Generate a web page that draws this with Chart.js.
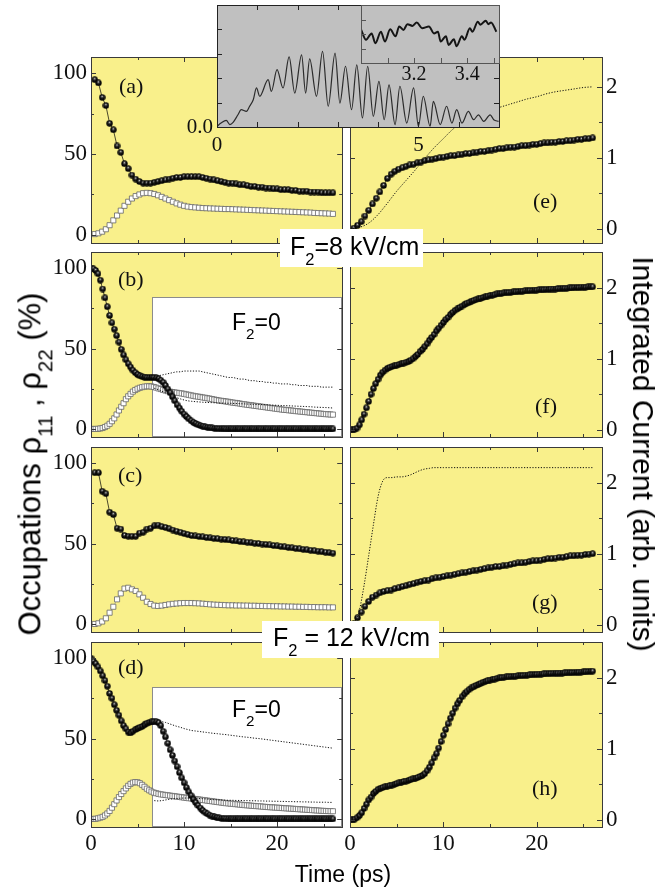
<!DOCTYPE html>
<html>
<head>
<meta charset="utf-8">
<title>Occupations and integrated current</title>
<script src="https://cdn.jsdelivr.net/npm/chart.js@4.4.1/dist/chart.umd.min.js"></script>
<style>
  body { margin: 0; background: #fff; }
  #fig { position: relative; width: 672px; height: 890px; overflow: hidden; background: #fff;
         font-family: "Liberation Sans", Arial, sans-serif; color: #000; }
  #plots canvas { position: absolute; }
  .tag { position: absolute; font-family: "Liberation Serif", "Times New Roman", serif; font-size: 22px; line-height: 1; color: #111; }
  .box { position: absolute; background: #fff; font-size: 25px; line-height: 1; white-space: nowrap; box-sizing: border-box; }
  .f0 { position: absolute; font-size: 23px; line-height: 1; white-space: nowrap; }
  .ttl { position: absolute; white-space: nowrap; line-height: 1; }
  sub { font-size: 0.66em; vertical-align: -0.6em; line-height: 0; }
</style>
</head>
<body>
<div id="fig">
  <div id="plots"></div>
  <div class="tag" style="left:119px;top:75px">(a)</div>
  <div class="tag" style="left:118px;top:268px">(b)</div>
  <div class="tag" style="left:118px;top:464px">(c)</div>
  <div class="tag" style="left:118px;top:656px">(d)</div>
  <div class="tag" style="left:533px;top:190px">(e)</div>
  <div class="tag" style="left:535px;top:395px">(f)</div>
  <div class="tag" style="left:532px;top:591px">(g)</div>
  <div class="tag" style="left:532px;top:777px">(h)</div>
  <div class="f0" style="left:232px;top:311px">F<sub>2</sub>=0</div>
  <div class="f0" style="left:232px;top:698px">F<sub>2</sub>=0</div>
  <div class="box" style="left:280px;top:229px;width:143px;height:38px;padding:5px 0 0 10px">F<sub>2</sub>=8 kV/cm</div>
  <div class="box" style="left:262px;top:621px;width:177px;height:37px;padding:4px 0 0 11px">F<sub>2</sub> = 12 kV/cm</div>
  <div class="ttl" style="left:30px;top:464px;font-size:31px;transform:translate(-50%,-50%) rotate(-90deg)">Occupations &#961;<sub>11</sub> , &#961;<sub>22</sub> (%)</div>
  <div class="ttl" style="left:643px;top:454px;font-size:30px;transform:translate(-50%,-50%) rotate(90deg)">Integrated Current (arb. units)</div>
  <div class="ttl" style="left:343px;top:863px;font-size:23px;transform:translateX(-50%)">Time (ps)</div>
</div>
<script>
// sampling grids (ps): sparse markers every 0.4 ps, dense markers every 0.25 ps
const tSparse = [];
for (let k = 1; k <= 65; k++) tSparse.push(+(0.4 * k).toFixed(1));
const tDense = [];
for (let k = 0; k <= 104; k++) tDense.push(k * 0.25);

// (a) F2 = 8 kV/cm, occupations (%)
const a11 = [96, 94, 85, 80, 69, 65, 55, 51, 44, 41,
  37, 34.5, 33, 32, 32, 32, 32.5, 33, 33.5, 34,
  34.5, 35, 35.5, 35.5, 36, 36, 36, 36, 36, 35.5,
  35, 34.5, 34, 33.5, 33, 32.5, 32, 32, 31.5, 31,
  31, 30.5, 30, 30, 29.5, 29.5, 29, 29, 28.5, 28.5,
  28, 28, 28, 27.5, 27.5, 27, 27, 27, 26.5, 26.5,
  26.5, 26, 26, 26, 26];
const a22 = [0.5, 1, 2, 3.5, 6, 9, 12, 15, 18, 20.5,
  22.5, 24, 25, 25.8, 26, 25.8, 25.3, 24.5, 23.5, 22.5,
  21.5, 20.5, 19.5, 18.7, 18, 17.5, 17.2, 17, 16.8, 16.6,
  16.5, 16.4, 16.3, 16.2, 16.1, 16, 16, 15.9, 15.8, 15.7,
  15.6, 15.5, 15.4, 15.3, 15.2, 15.1, 15, 14.9, 14.8, 14.7,
  14.6, 14.5, 14.4, 14.3, 14.2, 14.1, 14, 13.9, 13.8, 13.6,
  13.5, 13.4, 13.3, 13.2, 13];

// (b) F2 switched off
const b11 = [100, 99.5, 98.5, 96.5, 92.5, 87, 81.5, 76,
  70.5, 66, 62, 58, 54, 49.5, 46, 43,
  40.5, 38.5, 36.5, 35, 33.8, 33, 32.5, 32.2,
  32, 32, 32, 32, 31.8, 31.2, 30.3, 29,
  27, 24.8, 22.5, 20, 17.5, 15, 13, 11,
  9.2, 7.7, 6.3, 5.1, 4.1, 3.3, 2.6, 2.1,
  1.7, 1.3, 1.0, 0.8, 0.6, 0.4, 0.3, 0.2,
  0.1, 0.1, 0, 0, 0, 0, 0, 0,
  0, 0, 0, 0, 0, 0, 0, 0,
  0, 0, 0, 0, 0, 0, 0, 0,
  0, 0, 0, 0, 0, 0, 0, 0,
  0, 0, 0, 0, 0, 0, 0, 0,
  0, 0, 0, 0, 0, 0, 0, 0,
  0];
const b22 = [0, 0, 0, 0.1, 0.3, 0.6, 1.2, 2.0,
  3.2, 4.8, 6.6, 9, 11.5, 13.8, 16, 18.5,
  20.3, 21.8, 23.2, 24.2, 25, 25.6, 26, 26.3,
  26.5, 26.5, 26.4, 26.1, 25.7, 25.2, 24.8, 24.3,
  23.9, 23.5, 23.2, 22.9, 22.7, 22.5, 22.3, 22.1,
  21.8, 21.5, 21.2, 20.9, 20.6, 20.3, 20.1, 19.9,
  19.6, 19.4, 19.1, 18.9, 18.6, 18.3, 18, 17.7,
  17.5, 17.3, 17.1, 16.9, 16.6, 16.4, 16.2, 16,
  15.8, 15.5, 15.3, 15.1, 14.9, 14.7, 14.5, 14.3,
  14.1, 13.9, 13.7, 13.5, 13.3, 13.1, 12.9, 12.7,
  12.5, 12.3, 12.1, 11.9, 11.8, 11.6, 11.5, 11.3,
  11.1, 11, 10.8, 10.7, 10.5, 10.4, 10.2, 10.1,
  9.9, 9.8, 9.6, 9.5, 9.3, 9.2, 9.1, 9.0,
  8.9];

// (c) F2 = 12 kV/cm
const c11 = [94, 94, 82.5, 81, 69.5, 68, 59.5, 59, 55, 54.5,
  54.5, 54.5, 56.5, 57, 59, 59.5, 61, 61.5, 60.5, 60,
  59.2, 58.4, 57.6, 57, 56.2, 55.6, 55, 54.7, 54.4, 54.1,
  53.8, 53.5, 53.2, 53, 52.7, 52.5, 52.2, 51.9, 51.6, 51.3,
  51, 50.8, 50.5, 50.2, 50, 49.7, 49.4, 49.1, 48.8, 48.5,
  48.2, 47.9, 47.6, 47.3, 47, 46.7, 46.4, 46.1, 45.8, 45.5,
  45.2, 44.9, 44.6, 44.3, 44];
const c22 = [0, 0.4, 1.5, 3.5, 7, 10.7, 15.3, 19, 22, 22.5,
  21.5, 20.5, 18.4, 16.3, 13.8, 12.4, 11.4, 11.2, 11.4, 11.8,
  12.2, 12.5, 12.7, 12.9, 13, 13, 13, 12.9, 12.8, 12.6,
  12.4, 12.2, 12, 11.9, 11.8, 11.7, 11.6, 11.6, 11.5, 11.5,
  11.4, 11.4, 11.3, 11.3, 11.2, 11.2, 11.1, 11.1, 11.0, 11.0,
  10.9, 10.9, 10.8, 10.8, 10.7, 10.7, 10.6, 10.6, 10.5, 10.5,
  10.4, 10.4, 10.4, 10.3, 10.3];

// (d) F2 switched off
const d11 = [100, 98, 96.5, 94.5, 92, 89, 86, 82.5,
  78, 75, 71, 67.5, 64.5, 61, 58, 56,
  54, 53.5, 54.5, 55.5, 56.3, 57, 57.5, 58.5,
  59.5, 60, 60.3, 60.5, 60.5, 59.8, 58, 54.5,
  51, 47, 43, 39.5, 36, 32.5, 28.8, 25.5,
  22.5, 19.5, 16.8, 14.5, 12.2, 10.2, 8.4, 6.8,
  5.3, 4.2, 3.2, 2.4, 1.8, 1.3, 0.9, 0.6,
  0.4, 0.3, 0.2, 0.1, 0, 0, 0, 0,
  0, 0, 0, 0, 0, 0, 0, 0,
  0, 0, 0, 0, 0, 0, 0, 0,
  0, 0, 0, 0, 0, 0, 0, 0,
  0, 0, 0, 0, 0, 0, 0, 0,
  0, 0, 0, 0, 0, 0, 0, 0,
  0];
const d22 = [0, 0, 0.1, 0.4, 0.8, 1.3, 2.2, 3.4,
  5, 7, 9.2, 11.5, 13.6, 15.5, 17.3, 19,
  20.6, 21.8, 22.6, 22.9, 22.8, 22.2, 21.2, 20,
  18.8, 17.8, 17, 16.4, 16, 15.6, 15.3, 15.1,
  14.9, 14.7, 14.5, 14.3, 14.1, 13.9, 13.7, 13.5,
  13.3, 13.1, 12.9, 12.8, 12.6, 12.4, 12.2, 12,
  11.8, 11.6, 11.4, 11.2, 11, 10.8, 10.6, 10.4,
  10.2, 10, 9.8, 9.7, 9.5, 9.4, 9.2, 9.1,
  8.9, 8.8, 8.6, 8.5, 8.4, 8.2, 8.1, 8.0,
  7.9, 7.8, 7.6, 7.5, 7.4, 7.3, 7.2, 7.1,
  7.0, 6.9, 6.8, 6.7, 6.6, 6.5, 6.4, 6.3,
  6.2, 6.1, 6.0, 5.9, 5.8, 5.7, 5.6, 5.5,
  5.4, 5.3, 5.2, 5.1, 5.0, 4.95, 4.9, 4.85,
  4.8];

// integrated current (arb. units)
const eCur = [0.01, 0.05, 0.1, 0.18, 0.26, 0.35, 0.43, 0.52, 0.61, 0.71,
  0.77, 0.81, 0.84, 0.86, 0.88, 0.9, 0.91, 0.93, 0.94, 0.96,
  0.97, 0.98, 0.99, 1.00, 1.01, 1.02, 1.03, 1.03, 1.04, 1.05,
  1.06, 1.06, 1.07, 1.08, 1.09, 1.09, 1.10, 1.11, 1.12, 1.13,
  1.13, 1.14, 1.15, 1.15, 1.16, 1.17, 1.17, 1.18, 1.19, 1.19,
  1.20, 1.21, 1.21, 1.22, 1.22, 1.23, 1.23, 1.24, 1.24, 1.25,
  1.26, 1.26, 1.27, 1.27, 1.28];
const eDotT = [0, 1, 2, 3, 4, 5, 6, 7, 8, 9, 10, 11, 12, 13, 14, 15, 16, 17, 18, 19, 20, 21, 22, 23, 24, 25, 26];
const eDot = [0, 0.02, 0.08, 0.2, 0.36, 0.53, 0.68, 0.83, 0.99, 1.14, 1.27, 1.4, 1.49, 1.57, 1.63,
  1.67, 1.71, 1.75, 1.79, 1.83, 1.86, 1.9, 1.93, 1.95, 1.97, 1.99, 2.0];
const fCur = [0, 0, 0.01, 0.025, 0.07, 0.14, 0.22, 0.31,
  0.40, 0.50, 0.58, 0.65, 0.71, 0.77, 0.81, 0.84,
  0.865, 0.88, 0.89, 0.90, 0.91, 0.92, 0.93, 0.94,
  0.95, 0.96, 0.98, 1.00, 1.03, 1.06, 1.10, 1.13,
  1.17, 1.21, 1.26, 1.30, 1.34, 1.39, 1.43, 1.47,
  1.51, 1.55, 1.58, 1.62, 1.65, 1.68, 1.70, 1.72,
  1.74, 1.76, 1.78, 1.79, 1.81, 1.82, 1.83, 1.84,
  1.85, 1.86, 1.87, 1.88, 1.89, 1.895, 1.90, 1.91,
  1.915, 1.92, 1.925, 1.93, 1.93, 1.935, 1.94, 1.94,
  1.945, 1.95, 1.95, 1.955, 1.955, 1.96, 1.96, 1.965,
  1.965, 1.97, 1.97, 1.97, 1.975, 1.975, 1.98, 1.98,
  1.98, 1.985, 1.985, 1.99, 1.99, 1.99, 1.995, 1.995,
  2.00, 2.00, 2.00, 2.005, 2.005, 2.005, 2.01, 2.01,
  2.01];
const gCur = [0.02, 0.1, 0.18, 0.26, 0.33, 0.39, 0.42, 0.45, 0.47, 0.48,
  0.49, 0.51, 0.52, 0.54, 0.55, 0.57, 0.58, 0.6, 0.61, 0.62,
  0.63, 0.65, 0.66, 0.67, 0.68, 0.69, 0.7, 0.71, 0.72, 0.73,
  0.74, 0.75, 0.76, 0.77, 0.78, 0.79, 0.8, 0.81, 0.82, 0.82,
  0.83, 0.84, 0.85, 0.86, 0.87, 0.87, 0.88, 0.89, 0.9, 0.9,
  0.91, 0.92, 0.93, 0.93, 0.94, 0.95, 0.95, 0.96, 0.97, 0.97,
  0.98, 0.98, 0.99, 0.995, 1.0];
const gDotT = [0.5, 1, 1.5, 2, 2.5, 3, 3.5, 4, 4.5, 5, 5.5, 6, 6.5, 7, 7.5, 8, 8.5, 9, 10, 12, 14, 16, 18, 20, 22, 24, 26];
const gDot = [0, 0.2, 0.55, 0.97, 1.4, 1.8, 2.02, 2.07, 2.07, 2.08, 2.08, 2.09, 2.11, 2.14, 2.17, 2.19, 2.2,
  2.21, 2.21, 2.21, 2.21, 2.21, 2.21, 2.21, 2.21, 2.21, 2.21];
const hCur = [0, 0, 0.01, 0.03, 0.06, 0.10, 0.16, 0.22,
  0.28, 0.32, 0.37, 0.40, 0.43, 0.445, 0.455, 0.465,
  0.475, 0.48, 0.49, 0.50, 0.51, 0.52, 0.53, 0.54,
  0.545, 0.555, 0.565, 0.575, 0.585, 0.595, 0.61, 0.625,
  0.65, 0.69, 0.74, 0.80, 0.87, 0.93, 1.01, 1.10,
  1.19, 1.27, 1.35, 1.43, 1.50, 1.57, 1.63, 1.68,
  1.73, 1.77, 1.80, 1.83, 1.855, 1.87, 1.89, 1.905,
  1.92, 1.935, 1.945, 1.955, 1.965, 1.975, 1.98, 1.99,
  1.995, 2.0, 2.005, 2.01, 2.012, 2.015, 2.018, 2.02,
  2.025, 2.028, 2.03, 2.033, 2.035, 2.038, 2.04, 2.043,
  2.045, 2.048, 2.05, 2.052, 2.054, 2.056, 2.058, 2.06,
  2.061, 2.062, 2.063, 2.064, 2.066, 2.068, 2.069, 2.07,
  2.072, 2.074, 2.076, 2.078, 2.08, 2.082, 2.085, 2.088,
  2.09];

// gray inset: current trace, and its zoom
const insetT = [0, 0.1, 0.23, 0.32, 0.4, 0.52, 0.6, 0.73, 0.81, 0.9, 0.98, 1.06, 1.27, 1.35, 1.49,
  1.64, 1.79, 1.93, 2.1, 2.2, 2.3, 2.47, 2.62, 2.76, 2.93, 3.05, 3.19, 3.34, 3.47, 3.61,
  3.74, 3.88, 4.02, 4.15, 4.27, 4.42, 4.54, 4.71, 4.88, 5.0, 5.12, 5.29, 5.37, 5.54, 5.7,
  5.83, 5.95, 6.08, 6.24, 6.37, 6.49, 6.62, 6.78, 6.87, 6.99];
const insetV = [0.03, 0.16, 0.27, 0.1, 0.19, 0.5, 0.71, 0.64, 0.85, 1.12, 1.6, 1.26, 1.94, 1.46, 2.35,
  1.6, 2.87, 1.39, 2.96, 1.39, 2.79, 1.26, 3.1, 0.85, 3.03, 0.98, 2.49, 0.71, 2.55, 0.37,
  2.49, 0.44, 1.87, 0.3, 1.73, 0.1, 1.67, 0.16, 1.6, 0.03, 1.26, 0.03, 1.05, 0.1, 0.85,
  0.16, 0.71, 0.16, 0.64, 0.3, 0.5, 0.23, 0.5, 0.3, 0.23];
const subT = [3.0, 3.019, 3.04, 3.054, 3.075, 3.09, 3.11, 3.13, 3.144, 3.16, 3.175, 3.194, 3.21, 3.23,
  3.256, 3.275, 3.29, 3.30, 3.32, 3.33, 3.35, 3.36, 3.38, 3.39, 3.41, 3.42, 3.44, 3.45, 3.47, 3.48, 3.49, 3.51];
const subV = [0.58, 0.4, 0.51, 0.34, 0.54, 0.37, 0.58, 0.46, 0.63, 0.57, 0.67, 0.64, 0.7, 0.6,
  0.63, 0.51, 0.54, 0.37, 0.46, 0.31, 0.41, 0.29, 0.46, 0.4, 0.6, 0.54, 0.71, 0.66, 0.73, 0.67, 0.7, 0.54];

// tick values
const xMajor = [0, 10, 20], xMinor = [5, 15, 25];
const occMajor = [0, 50, 100], occMinor = [25, 75];
const curMajor = [0, 1, 2], curMinor = [0.5, 1.5];
const insetXTicks = [0, 1, 2, 3, 4, 5, 6, 7], insetXLabels = [0, 5];
const insetYTicks = [0, 1, 2, 3, 4, 5], insetYLabels = [0];
const subXTicks = [3.1, 3.2, 3.3, 3.4, 3.5], subXLabels = [3.2, 3.4];
const subYTicks = [0.25, 0.5, 0.75];

const YELLOW = '#f9f08b';
const GRAY = '#c0c0c0';
const serif = size => ({ family: '"Liberation Serif", "Times New Roman", serif', size: size, weight: 'normal' });

Chart.register({
  id: 'bg',
  beforeDraw(chart, args, o) {
    if (!o.color) return;
    const a = chart.chartArea, ctx = chart.ctx;
    ctx.save();
    ctx.fillStyle = o.color;
    ctx.fillRect(a.left, a.top, a.right - a.left, a.bottom - a.top);
    ctx.restore();
  }
}, {
  id: 'whiteBox',
  beforeDatasetsDraw(chart, args, o) {
    if (o.x0 === undefined) return;
    const { ctx, scales: { x, y } } = chart;
    const l = Math.round(x.getPixelForValue(o.x0)) + 0.5, r = Math.round(x.getPixelForValue(o.x1)) + 0.5;
    const t = Math.round(y.getPixelForValue(o.y1)) + 0.5, b = Math.round(y.getPixelForValue(o.y0)) + 0.5;
    ctx.save();
    ctx.fillStyle = '#fff';
    ctx.fillRect(l, t, r - l, b - t);
    ctx.strokeStyle = '#8c8c8c';
    ctx.lineWidth = 1;
    ctx.strokeRect(l, t, r - l, b - t);
    ctx.restore();
  }
}, {
  // frame with inward ticks on all sides
  id: 'frame',
  afterDatasetsDraw(chart, args, o) {
    if (!o.xMaj) return;
    const { ctx, chartArea: a, scales: { x, y } } = chart;
    const sides = o.sides || 'tblr';
    ctx.save();
    ctx.strokeStyle = o.color || '#3a3a3a';
    ctx.lineWidth = 1;
    ctx.beginPath();
    const xs = o.xMaj.map(v => [v, 5]).concat((o.xMin || []).map(v => [v, 3]));
    const ys = o.yMaj.map(v => [v, 5]).concat((o.yMin || []).map(v => [v, 3]));
    xs.forEach(([v, len]) => {
      const p = Math.round(x.getPixelForValue(v)) + 0.5;
      if (sides.includes('b')) { ctx.moveTo(p, a.bottom); ctx.lineTo(p, a.bottom - len); }
      if (sides.includes('t')) { ctx.moveTo(p, a.top); ctx.lineTo(p, a.top + len); }
    });
    ys.forEach(([v, len]) => {
      const p = Math.round(y.getPixelForValue(v)) + 0.5;
      if (sides.includes('l')) { ctx.moveTo(a.left, p); ctx.lineTo(a.left + len, p); }
      if (sides.includes('r')) { ctx.moveTo(a.right, p); ctx.lineTo(a.right - len, p); }
    });
    ctx.stroke();
    ctx.strokeRect(Math.round(a.left) + 0.5, Math.round(a.top) + 0.5,
      Math.round(a.right - a.left), Math.round(a.bottom - a.top));
    ctx.restore();
  }
});

// shaded ball marker
const ball = (() => {
  const c = document.createElement('canvas');
  c.width = c.height = 7;
  const g = c.getContext('2d');
  const gr = g.createRadialGradient(3.3, 2.2, 0.1, 3.5, 3.5, 3.4);
  gr.addColorStop(0, '#f0f0f0');
  gr.addColorStop(0.22, '#5a5a5a');
  gr.addColorStop(0.55, '#0d0d0d');
  gr.addColorStop(1, '#000');
  g.fillStyle = gr;
  g.beginPath();
  g.arc(3.5, 3.5, 3.2, 0, Math.PI * 2);
  g.fill();
  return c;
})();

const pts = (ts, vs) => vs.map((v, i) => ({ x: ts[i], y: v }));
const after = (ts, vs, t0) => pts(ts, vs).filter(p => p.x >= t0);

function spheres(ts, vs) {
  return { data: pts(ts, vs), showLine: true, borderColor: '#000', borderWidth: 0.7,
    pointStyle: ball, pointRadius: 3, pointHoverRadius: 3 };
}
function squares(ts, vs) {
  return { data: pts(ts, vs), showLine: true, borderColor: '#9a9a9a', borderWidth: 0.6,
    pointStyle: 'rect', pointRadius: 3.6, pointBackgroundColor: '#fff',
    pointBorderColor: '#666', pointBorderWidth: 0.8 };
}
function dotted(data) {
  return { data: data, showLine: true, borderColor: '#111', borderWidth: 1,
    borderDash: [1.2, 1.6], pointRadius: 0, cubicInterpolationMode: 'monotone' };
}

const plots = document.getElementById('plots');
function addCanvas(x, y, w, h) {
  const c = document.createElement('canvas');
  c.width = w; c.height = h;
  c.style.left = x + 'px'; c.style.top = y + 'px';
  c.style.width = w + 'px'; c.style.height = h + 'px';
  plots.appendChild(c);
  return c;
}

const ROWS = [[57, 243], [252, 437], [447, 632], [642, 827]];
const BOX = { x0: 6.55, x1: 26.85, y0: -4.2, y1: 82 };

function makePanel(p) {
  const left = p.side === 'L';
  const [top, bottom] = ROWS[p.row];
  const last = p.row === 3;
  const area = left ? { l: 91, r: 343 } : { l: 350, r: 602 };
  const bx = left ? 0 : 322, bw = left ? 347 : 350;
  const by = top - 24, bh = (bottom - top) + 24 + (last ? 50 : 24);
  const yMaj = left ? occMajor : curMajor, yMin = left ? occMinor : curMinor;
  new Chart(addCanvas(bx, by, bw, bh), {
    type: 'scatter',
    data: { datasets: p.ds },
    options: {
      responsive: false, animation: false, devicePixelRatio: 1, events: [],
      layout: { padding: { top: top - by, bottom: 0, left: left ? 0 : area.l - bx, right: left ? bx + bw - area.r : 0 } },
      plugins: {
        legend: { display: false }, tooltip: { enabled: false },
        bg: { color: YELLOW }, whiteBox: p.box || {},
        frame: { xMaj: xMajor, xMin: xMinor, yMaj: yMaj, yMin: yMin }
      },
      scales: {
        x: {
          type: 'linear', min: 0, max: 27,
          grid: { display: false, drawTicks: false }, border: { display: false },
          ticks: { display: last, font: serif(23), color: '#111', padding: 3, maxRotation: 0 },
          afterBuildTicks: s => { s.ticks = xMajor.map(v => ({ value: v })); },
          afterFit: s => { s.height = by + bh - bottom; }
        },
        y: {
          type: 'linear', position: left ? 'left' : 'right', min: p.ymin, max: p.ymax,
          grid: { display: false, drawTicks: false }, border: { display: false },
          ticks: { font: serif(23), color: '#111', padding: 4 },
          afterBuildTicks: s => { s.ticks = yMaj.map(v => ({ value: v })); },
          afterFit: s => { s.width = left ? area.l - bx : bx + bw - area.r; }
        }
      }
    }
  });
}

const panels = [
  { side: 'L', row: 0, ymin: -5, ymax: 110, ds: [spheres(tSparse, a11), squares(tSparse, a22)] },
  { side: 'L', row: 1, ymin: -5, ymax: 110, box: BOX,
    ds: [dotted(after(tSparse, a11, 6.8)), dotted(after(tSparse, a22, 6.8)), spheres(tDense, b11), squares(tDense, b22)] },
  { side: 'L', row: 2, ymin: -5, ymax: 110, ds: [spheres(tSparse, c11), squares(tSparse, c22)] },
  { side: 'L', row: 3, ymin: -5, ymax: 110, box: BOX,
    ds: [dotted(after(tSparse, c11, 6.8)), dotted(after(tSparse, c22, 6.8)), spheres(tDense, d11), squares(tDense, d22)] },
  { side: 'R', row: 0, ymin: -0.2, ymax: 2.42, ds: [dotted(pts(eDotT, eDot)), spheres(tSparse, eCur)] },
  { side: 'R', row: 1, ymin: -0.1, ymax: 2.5, ds: [spheres(tDense, fCur)] },
  { side: 'R', row: 2, ymin: -0.1, ymax: 2.5, ds: [dotted(pts(gDotT, gDot)), spheres(tSparse, gCur)] },
  { side: 'R', row: 3, ymin: -0.1, ymax: 2.5, ds: [spheres(tDense, hCur)] }
];
panels.forEach(makePanel);

// generic small gray inset
function makeInset(o) {
  const a = o.area;
  const bx = o.bx, by = -20, bw = a.r + 21 - o.bx, bh = a.b + o.xh + 20;
  new Chart(addCanvas(bx, by, bw, bh), {
    type: 'scatter',
    data: { datasets: [{ data: pts(o.t, o.v), showLine: true, borderColor: o.color, borderWidth: o.lw,
      pointRadius: 0, cubicInterpolationMode: 'monotone' }] },
    options: {
      responsive: false, animation: false, devicePixelRatio: 1, events: [],
      layout: { padding: { top: a.t - by, bottom: 0, left: 0, right: bx + bw - a.r } },
      plugins: {
        legend: { display: false }, tooltip: { enabled: false },
        bg: { color: GRAY },
        frame: { xMaj: o.xTicks, yMaj: o.yTicks, color: o.frame, sides: o.sides }
      },
      scales: {
        x: {
          type: 'linear', min: o.xmin, max: o.xmax,
          grid: { display: false, drawTicks: false }, border: { display: false },
          ticks: { font: serif(o.fs), color: '#111', padding: o.xpad, maxRotation: 0, callback: o.xfmt },
          afterBuildTicks: s => { s.ticks = o.xLabels.map(v => ({ value: v })); },
          afterFit: s => { s.height = by + bh - a.b; }
        },
        y: {
          type: 'linear', min: o.ymin, max: o.ymax,
          grid: { display: false, drawTicks: false }, border: { display: false },
          ticks: { display: o.yLabels.length > 0, font: serif(o.fs), color: '#111', padding: 4,
            callback: v => v.toFixed(1) },
          afterBuildTicks: s => { s.ticks = (o.yLabels.length ? o.yLabels : [o.ymin]).map(v => ({ value: v })); },
          afterFit: s => { s.width = a.l - bx; }
        }
      }
    }
  });
}

makeInset({ area: { l: 217, t: 5, r: 499, b: 127 }, bx: 160, xh: 33, t: insetT, v: insetV,
  xmin: 0, xmax: 7, ymin: 0, ymax: 5, xTicks: insetXTicks, yTicks: insetYTicks,
  xLabels: insetXLabels, yLabels: insetYLabels, fs: 21, xpad: 6, xfmt: v => String(v),
  color: '#2b2b2b', lw: 1.2, frame: '#222', sides: 'tblr' });
makeInset({ area: { l: 361, t: 5, r: 499, b: 63 }, bx: 340, xh: 27, t: subT, v: subV,
  xmin: 3.0, xmax: 3.52, ymin: 0, ymax: 1, xTicks: subXTicks, yTicks: subYTicks,
  xLabels: subXLabels, yLabels: [], fs: 20, xpad: 0, xfmt: v => v.toFixed(1),
  color: '#151515', lw: 2, frame: '#555', sides: 'bl' });
</script>
</body>
</html>
